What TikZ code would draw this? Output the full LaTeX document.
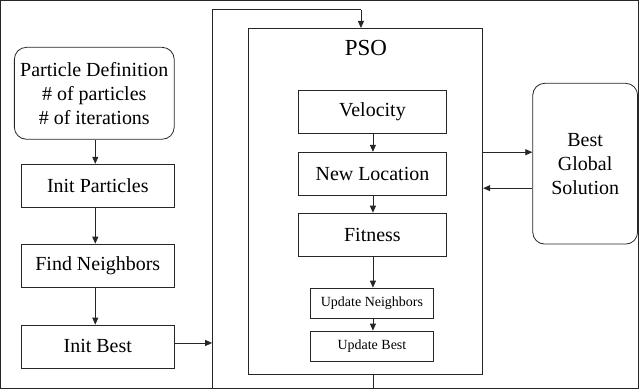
\documentclass[tikz,border=0pt]{standalone}
\usepackage{fontspec}
\setmainfont{Liberation Serif}
\newfontfamily\labelfont{Liberation Serif}
\usetikzlibrary{arrows.meta}

\begin{document}
\begin{tikzpicture}[x=1pt,y=-1pt,
  line width=0.8pt,
  every path/.style={draw=black!85},
  box/.style={draw=black!85, rectangle, inner sep=0pt, align=center,
    font=\labelfont\fontsize{20}{24}\selectfont},
  smallbox/.style={box, font=\labelfont\fontsize{14}{17}\selectfont},
  roundbox/.style={box, rounded corners=12pt},
  flow/.style={-{Triangle[length=7pt,width=6pt]}}
]
\useasboundingbox (0,0) rectangle (639,388);

% left column: set-up steps
\node[roundbox, minimum width=160pt, minimum height=92pt] (pd) at (94,93)
  {Particle Definition\\\# of particles\\\# of iterations};
\node[box, minimum width=153pt, minimum height=43pt] (ip) at (97.5,185.5) {Init Particles};
\node[box, minimum width=153pt, minimum height=43pt] (fn) at (97.5,265.5) {Find Neighbors};
\node[box, minimum width=153pt, minimum height=43pt] (ib) at (97.5,346.5) {Init Best};

% PSO loop container
\node[box, minimum width=235pt, minimum height=346pt] (pso) at (365.5,201) {};
\node[font=\labelfont\fontsize{23}{27}\selectfont, inner sep=0pt] (psot) at (366,48) {PSO};

\node[box, minimum width=149pt, minimum height=43pt] (vel) at (372.5,111.5) {Velocity};
\node[box, minimum width=149pt, minimum height=43pt] (nl) at (372.5,173.5) {New Location};
\node[box, minimum width=149pt, minimum height=43pt] (fit) at (372.5,234.5) {Fitness};
\node[smallbox, minimum width=124pt, minimum height=30pt] (un) at (372,303) {Update Neighbors};
\node[smallbox, minimum width=124pt, minimum height=30pt] (ub) at (372,346) {Update Best};

% global best store
\node[roundbox, minimum width=105pt, minimum height=161pt] (bgs) at (585.5,163.5)
  {Best\\Global\\Solution};

% set-up flow
\draw[flow] (pd.south -| 95,0) -- (ip.north -| 95,0);
\draw[flow] (ip.south -| 95,0) -- (fn.north -| 95,0);
\draw[flow] (fn.south -| 95,0) -- (ib.north -| 95,0);

% iteration loop around the PSO block
\coordinate (loopin) at (212,343);
\coordinate (lbot) at (212,388);
\coordinate (ltop) at (212,9.5);
\coordinate (rtop) at (361,9.5);
\coordinate (rbot) at (373,388);
\draw[flow] (ib.east |- loopin) -- (loopin);
\draw (lbot) -- (ltop) -- (rtop);
\draw[flow] (rtop) -- (rtop |- pso.north);
\draw (pso.south -| rbot) -- (rbot);

% steps inside PSO
\draw[flow] (vel.south -| 373,0) -- (nl.north -| 373,0);
\draw[flow] (nl.south -| 373,0) -- (fit.north -| 373,0);
\draw[flow] (fit.south -| 373,0) -- (un.north -| 373,0);
\draw[flow] (un.south -| 373,0) -- (ub.north -| 373,0);

% exchange with the global best
\draw[flow] (pso.east |- 0,152) -- (bgs.west |- 0,152);
\draw[flow] (bgs.west |- 0,188) -- (pso.east |- 0,188);
\end{tikzpicture}
\end{document}
